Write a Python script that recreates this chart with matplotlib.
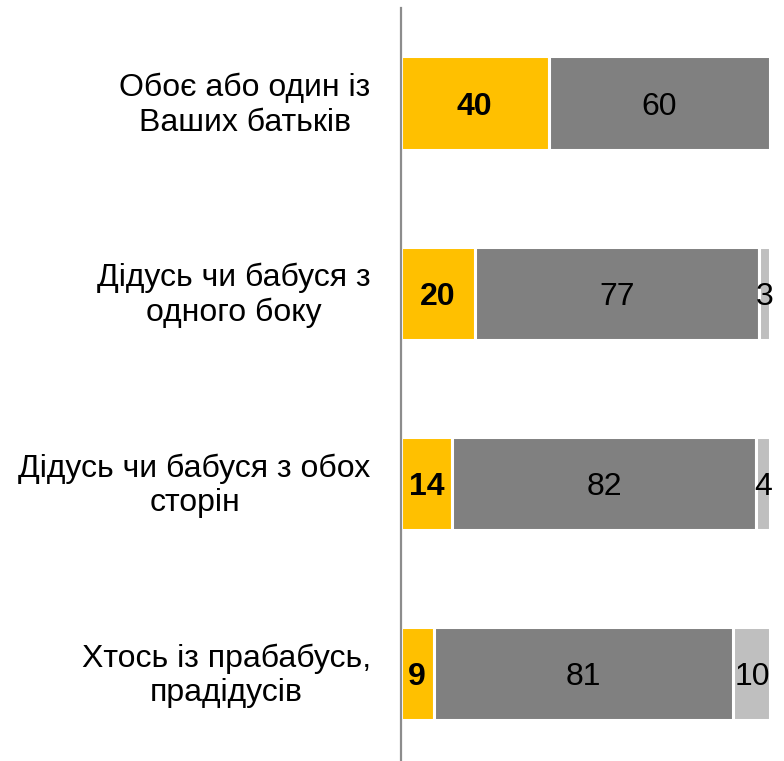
import matplotlib
matplotlib.use('Agg')
import matplotlib.pyplot as plt
import matplotlib.transforms as mtransforms


categories = [
    'Обоє або один із\nВаших батьків',
    'Дідусь чи бабуся з\nодного боку',
    'Дідусь чи бабуся з обох\nсторін',
    'Хтось із прабабусь,\nпрадідусів']
yes_values = [40, 20, 14, 9]
no_values = [60, 77, 82, 81]
unknown_values = [0, 3, 4, 10]

COLORS = ['#FFC000', '#808080', '#BFBFBF']

plt.rcParams['font.family'] = ['Liberation Sans', 'DejaVu Sans']

fig = plt.figure(figsize=(7.84, 7.61), dpi=100)
ax = fig.add_axes([400.5 / 784, 0.0, 370 / 784, 753 / 761])

y = list(range(len(categories)))
left = [0] * len(categories)
series = [yes_values, no_values, unknown_values]

for idx, values in enumerate(series):
    bars = ax.barh(y, values, left=left, height=0.49, color=COLORS[idx],
                   edgecolor='white', linewidth=2.2)
    for bar, val in zip(bars, values):
        if val == 0:
            continue
        cx = bar.get_x() + bar.get_width() / 2
        cy = bar.get_y() + bar.get_height() / 2
        ax.text(cx, cy, str(val), ha='center', va='center_baseline',
                fontsize=23, fontweight='bold' if idx == 0 else 'normal',
                color='black')
    left = [l + v for l, v in zip(left, values)]

ax.set_xlim(0, 100)
ax.set_ylim(3.46, -0.5)
ax.set_yticks(y)
ax.set_yticklabels(categories, fontsize=23, multialignment='center',
                   linespacing=1.2)
ax.tick_params(axis='y', length=0, pad=21.5)
ax.set_xticks([])

# nudge category labels up a little
shift = mtransforms.ScaledTranslation(0, 3.5 / 100, fig.dpi_scale_trans)
for lbl in ax.get_yticklabels():
    lbl.set_transform(lbl.get_transform() + shift)

for side in ['top', 'right', 'bottom']:
    ax.spines[side].set_visible(False)
ax.spines['left'].set_color('#8C8C8C')
ax.spines['left'].set_linewidth(1.6)

fig.savefig('out.png', dpi=100)
